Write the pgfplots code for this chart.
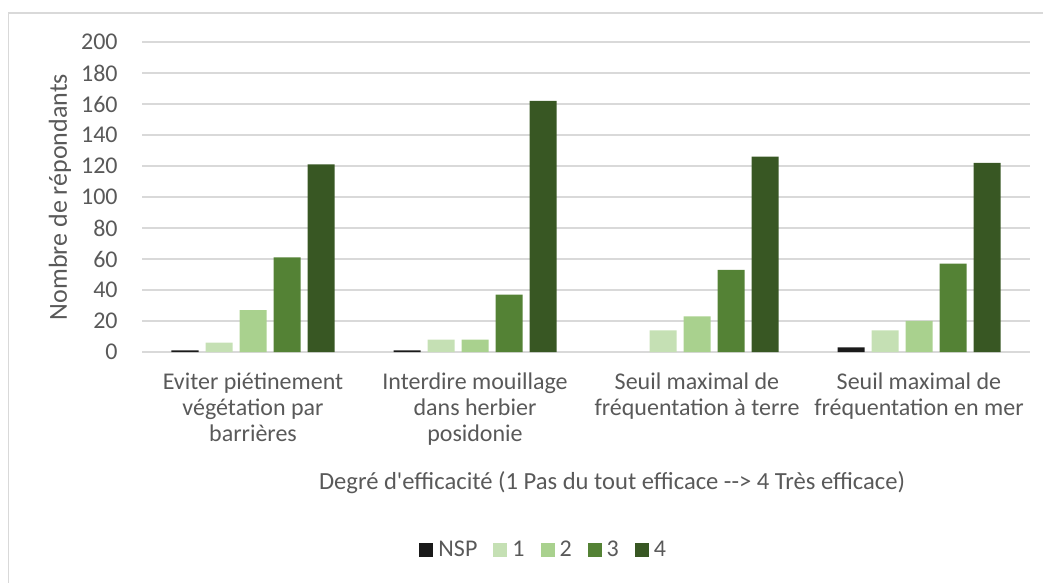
\documentclass[border=0pt]{standalone}
\usepackage{fontspec}
\setmainfont{Carlito}
\usepackage{pgfplots}
\pgfplotsset{compat=1.18}
\definecolor{txt}{HTML}{595959}
\definecolor{gridc}{HTML}{D9D9D9}
\definecolor{cNSP}{HTML}{1A1A1A}
\definecolor{cA}{HTML}{C5E0B4}
\definecolor{cB}{HTML}{A9D18E}
\definecolor{cC}{HTML}{548235}
\definecolor{cD}{HTML}{385723}
\pgfplotsset{sqleg/.style={legend image code/.code={\fill[##1,draw=none] (0pt,-3.5pt) rectangle (7pt,3.5pt);}}}
\newcommand{\bigf}{\fontsize{12}{13}\selectfont}
\begin{document}
\begin{tikzpicture}[x=1pt,y=1pt]
\path[use as bounding box] (0,0) rectangle (521.5,291.5);
\draw[gridc, line width=0.75pt] (4.25,0) -- (4.25,285) -- (521.5,285);
\begin{axis}[
  at={(71pt,115.5pt)}, anchor=south west,
  scale only axis, width=444pt, height=155pt,
  ymin=0, ymax=200, ytick={0,20,...,200},
  xmin=-0.5, xmax=3.5, xtick={0,1,2,3},
  xticklabels={{Eviter piétinement\\végétation par\\barrières},{Interdire mouillage\\dans herbier\\posidonie},{Seuil maximal de\\fréquentation à terre},{Seuil maximal de\\fréquentation en mer}},
  xticklabel style={align=center, anchor=north, yshift=-7pt},
  yticklabel style={anchor=east, inner sep=0pt, xshift=-12pt},
  /pgf/number format/assume math mode=true,
  ybar=3.5pt, bar width=13.5pt,
  axis line style={draw=none},
  major tick length=0pt,
  ymajorgrids, grid style={gridc, line width=0.75pt},
  font=\bigf,
  every tick label/.append style={text=txt, font=\bigf},
  ylabel={Nombre de répondants},
  every axis y label/.style={at={(axis description cs:0,0.5)}, xshift=-41pt, rotate=90, anchor=center, text=txt, font=\fontsize{13}{14}\selectfont},
  xlabel={Degré d\textquotesingle efficacité (1 Pas du tout efficace -{}-> 4 Très efficace)},
  every axis x label/.style={at={(axis description cs:0.5,0)}, xshift=13pt, yshift=-65.5pt, anchor=center, text=txt, font=\fontsize{12.3}{13}\selectfont},
  legend style={at={(axis description cs:0.453,0)}, anchor=center, yshift=-99pt, draw=none, fill=none, legend columns=-1, text=txt, font=\bigf, /tikz/every even column/.append style={column sep=6.5pt}, /tikz/every odd column/.append style={column sep=1pt}, nodes={inner sep=1.5pt}},
]
\addplot[fill=cNSP, draw=none, sqleg] coordinates {(0,1) (1,1) (3,3)};
\addplot[fill=cA, draw=none, sqleg] coordinates {(0,6) (1,8) (2,14) (3,14)};
\addplot[fill=cB, draw=none, sqleg] coordinates {(0,27) (1,8) (2,23) (3,20)};
\addplot[fill=cC, draw=none, sqleg] coordinates {(0,61) (1,37) (2,53) (3,57)};
\addplot[fill=cD, draw=none, sqleg] coordinates {(0,121) (1,162) (2,126) (3,122)};
\legend{NSP,1,2,3,4}
\end{axis}
\end{tikzpicture}
\end{document}
